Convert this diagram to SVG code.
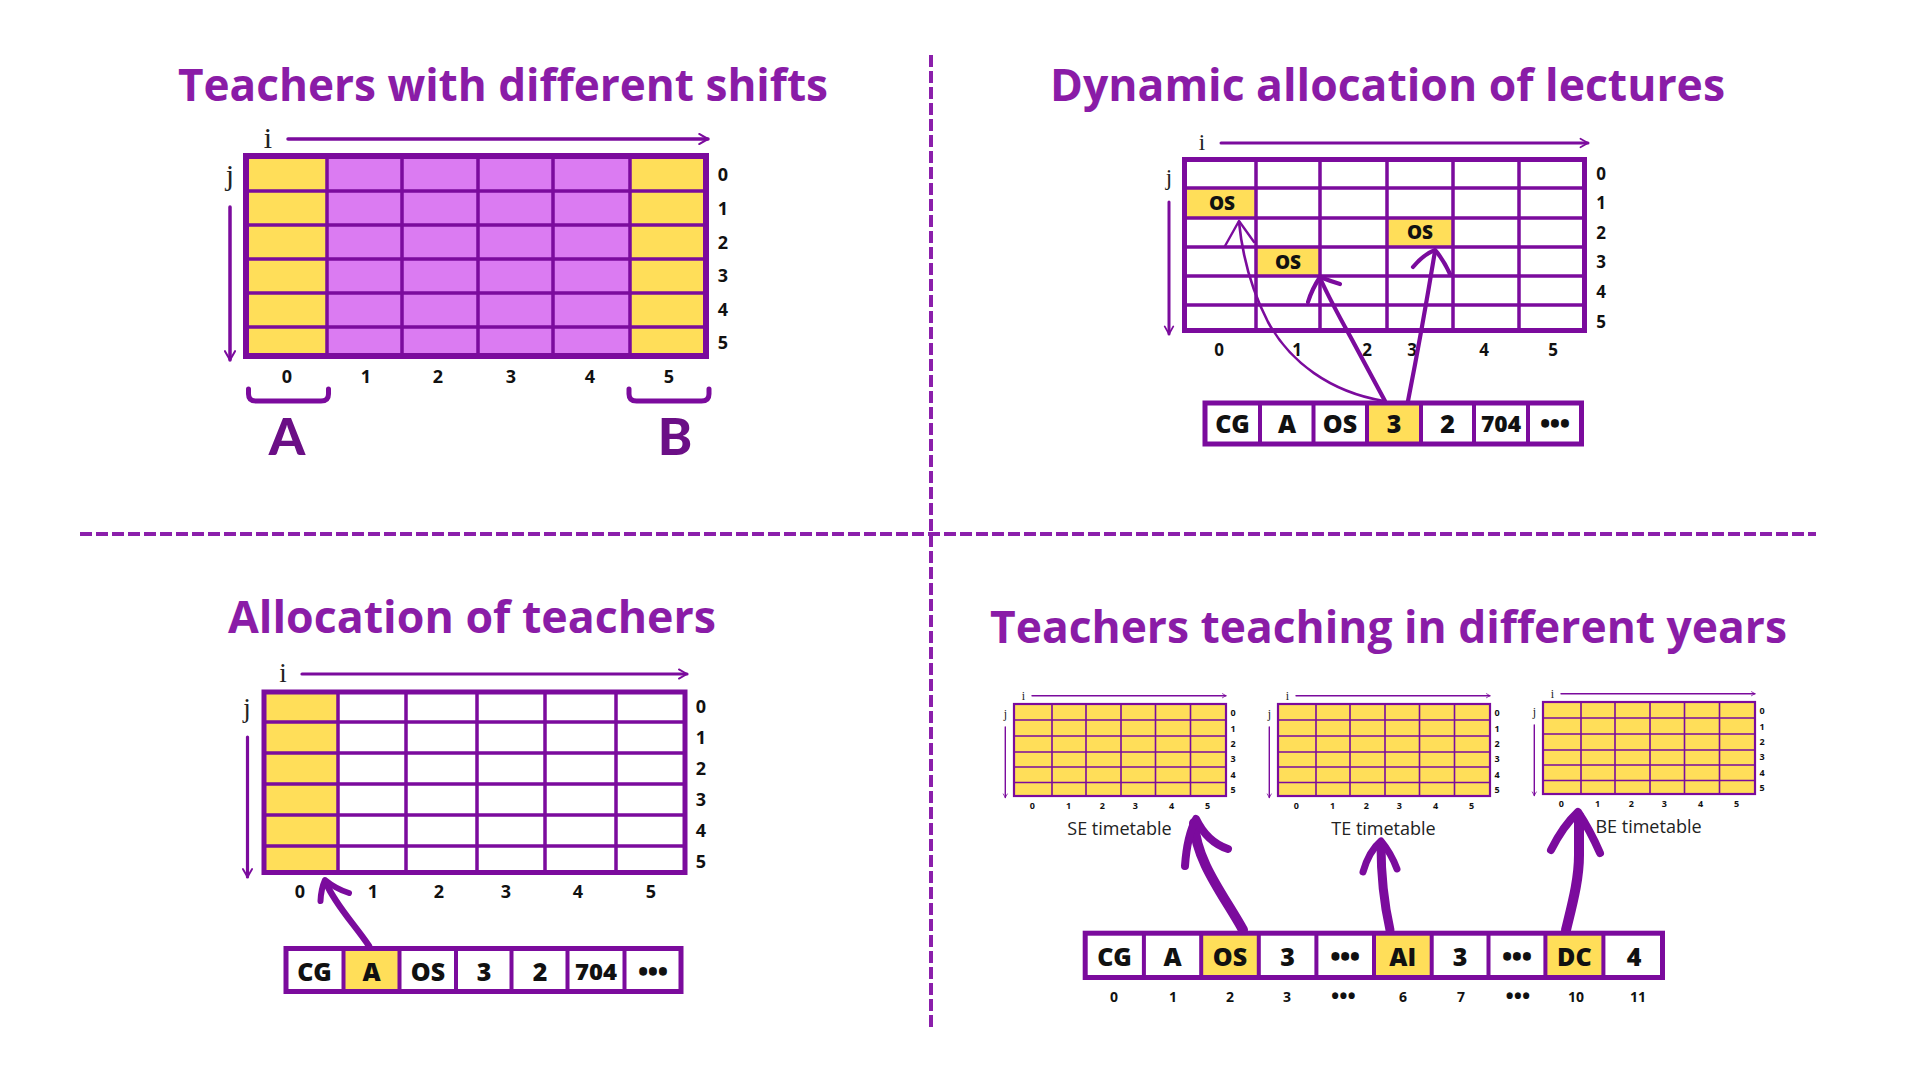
<svg xmlns="http://www.w3.org/2000/svg" width="1920" height="1080" viewBox="0 0 1920 1080">
  <style>
    .ttl { font-family: "Open Sans", Lato, "DejaVu Sans", sans-serif; font-weight: 700; font-size: 44px; fill: #8a1ca7; }
    .big { font-family: Lato, "Open Sans", sans-serif; font-weight: 900; font-size: 52px; fill: #6b0f86; text-anchor: middle; }
    .num { font-family: "Open Sans", "Liberation Sans", sans-serif; font-weight: 700; font-size: 18px; fill: #111; text-anchor: middle; }
    .num17 { font-family: "Open Sans", "Liberation Sans", sans-serif; font-weight: 700; font-size: 17px; fill: #111; text-anchor: middle; }
    .snum { font-family: "Open Sans", "Liberation Sans", sans-serif; font-weight: 700; font-size: 9px; fill: #111; text-anchor: middle; }
    .cell { font-family: "Open Sans", "Liberation Sans", sans-serif; font-weight: 800; font-size: 25px; fill: #111; text-anchor: middle; }
    .os { font-family: "Open Sans", "Liberation Sans", sans-serif; font-weight: 800; font-size: 19px; fill: #111; text-anchor: middle; }
    .idx { font-family: "Open Sans", "Liberation Sans", sans-serif; font-weight: 700; font-size: 14px; fill: #111; text-anchor: middle; }
    .ax { font-family: "Liberation Serif", "DejaVu Serif", serif; fill: #222; text-anchor: middle; }
    .cap { font-family: "Open Sans", "Liberation Sans", sans-serif; font-weight: 400; font-size: 18px; fill: #222; text-anchor: middle; }
    .axis { fill: none; stroke: #7b0b9d; stroke-linecap: round; marker-end: url(#chev); }
    .gl { fill: none; stroke: #7b0b9d; }
    .yel { fill: #ffde59; }
    .pink { fill: #db7bf2; }
    .wht { fill: #ffffff; }
    .dash { fill: none; stroke: #8b1fab; stroke-width: 4; stroke-dasharray: 12 4; }
    .thick { fill: none; stroke: #7b0b9d; stroke-linecap: round; stroke-linejoin: round; }
  </style>
  <defs>
    <marker id="chev" viewBox="0 0 10 10" refX="8.5" refY="5" markerWidth="3.6" markerHeight="4.6" orient="auto" markerUnits="strokeWidth">
      <path d="M1.5,1 L8.5,5 L1.5,9" fill="none" stroke="#7b0b9d" stroke-width="1.6" stroke-linecap="round" stroke-linejoin="round"/>
    </marker>
  </defs>
  <rect width="1920" height="1080" fill="#ffffff"/>

  <!-- dividers -->
  <g id="dividers">
    <line class="dash" x1="931" y1="55" x2="931" y2="1029"/>
    <line class="dash" x1="80" y1="534" x2="1816" y2="534"/>
  </g>

  <!-- titles -->
  <g id="titles">
    <text class="ttl" x="178" y="101" textLength="650" lengthAdjust="spacingAndGlyphs">Teachers with different shifts</text>
    <text class="ttl" x="1050" y="101" textLength="675" lengthAdjust="spacingAndGlyphs">Dynamic allocation of lectures</text>
    <text class="ttl" x="228" y="633" textLength="488" lengthAdjust="spacingAndGlyphs">Allocation of teachers</text>
    <text class="ttl" x="990" y="643" textLength="797" lengthAdjust="spacingAndGlyphs">Teachers teaching in different years</text>
  </g>

  <!-- Panel 1: Teachers with different shifts -->
  <g id="grid-shifts">
    <rect class="pink" x="246" y="156" width="460" height="200"/>
    <rect class="yel" x="246" y="156" width="81" height="200"/>
    <rect class="yel" x="630" y="156" width="76" height="200"/>
    <path class="gl" stroke-width="3.5" d="M327,156V356 M402,156V356 M478,156V356 M553,156V356 M630,156V356 M246,191H706 M246,225H706 M246,259H706 M246,293H706 M246,327H706"/>
    <rect class="gl" x="246" y="156" width="460" height="200" stroke-width="6"/>
    <text class="ax" x="268" y="148" font-size="30">i</text>
    <text class="ax" x="230" y="185" font-size="30">j</text>
    <line class="axis" x1="288" y1="139" x2="708" y2="139" stroke-width="3.5"/>
    <line class="axis" x1="230" y1="207" x2="230" y2="360" stroke-width="3.5"/>
    <text class="num" x="723" y="181">0</text>
    <text class="num" x="723" y="215">1</text>
    <text class="num" x="723" y="249">2</text>
    <text class="num" x="723" y="282">3</text>
    <text class="num" x="723" y="316">4</text>
    <text class="num" x="723" y="349">5</text>
    <text class="num" x="287" y="383">0</text>
    <text class="num" x="366" y="383">1</text>
    <text class="num" x="438" y="383">2</text>
    <text class="num" x="511" y="383">3</text>
    <text class="num" x="590" y="383">4</text>
    <text class="num" x="669" y="383">5</text>
  </g>
  <g id="group-A">
    <path class="thick" stroke-width="5" d="M248.5,389 V394 Q248.5,401 256,401 H321 Q328.5,401 328.5,394 V389"/>
    <text class="big" x="287" y="455">A</text>
  </g>
  <g id="group-B">
    <path class="thick" stroke-width="5" d="M629,389 V394 Q629,401 636.5,401 H701.5 Q709,401 709,394 V389"/>
    <text class="big" x="675" y="455">B</text>
  </g>

  <!-- Panel 2: Dynamic allocation of lectures -->
  <g id="grid-dynamic">
    <rect class="wht" x="1184.5" y="159.5" width="400" height="171"/>
    <rect class="yel" x="1184.5" y="188" width="71.5" height="30"/>
    <rect class="yel" x="1387" y="218" width="66" height="29"/>
    <rect class="yel" x="1256" y="247" width="64" height="29"/>
    <path class="gl" stroke-width="3.5" d="M1256,159.5V330.5 M1320,159.5V330.5 M1387,159.5V330.5 M1453,159.5V330.5 M1519,159.5V330.5 M1184.5,188H1584.5 M1184.5,218H1584.5 M1184.5,247H1584.5 M1184.5,276H1584.5 M1184.5,305H1584.5"/>
    <rect class="gl" x="1184.5" y="159.5" width="400" height="171" stroke-width="5"/>
    <text class="os" x="1222" y="210">OS</text>
    <text class="os" x="1420" y="238.5">OS</text>
    <text class="os" x="1288" y="268.5">OS</text>
    <text class="ax" x="1202" y="150" font-size="23">i</text>
    <text class="ax" x="1169" y="185" font-size="23">j</text>
    <line class="axis" x1="1221" y1="143" x2="1588" y2="143" stroke-width="3"/>
    <line class="axis" x1="1169" y1="202" x2="1169" y2="334" stroke-width="3"/>
    <text class="num17" x="1601" y="179.5">0</text>
    <text class="num17" x="1601" y="209">1</text>
    <text class="num17" x="1601" y="239">2</text>
    <text class="num17" x="1601" y="268">3</text>
    <text class="num17" x="1601" y="298">4</text>
    <text class="num17" x="1601" y="328">5</text>
    <text class="num17" x="1219" y="356">0</text>
    <text class="num17" x="1297" y="356">1</text>
    <text class="num17" x="1367" y="356">2</text>
    <text class="num17" x="1412" y="356">3</text>
    <text class="num17" x="1484" y="356">4</text>
    <text class="num17" x="1553" y="356">5</text>
  </g>
  <g id="array-dynamic">
    <rect class="wht" x="1205" y="403" width="376.5" height="41"/>
    <rect class="yel" x="1367" y="403" width="54" height="41"/>
    <path class="gl" stroke-width="4" d="M1260,403V444 M1313.5,403V444 M1367,403V444 M1421,403V444 M1474,403V444 M1528,403V444"/>
    <rect class="gl" x="1205" y="403" width="376.5" height="41" stroke-width="5"/>
    <text class="cell" x="1232.5" y="432.5">CG</text>
    <text class="cell" x="1287" y="432.5">A</text>
    <text class="cell" x="1340" y="432.5">OS</text>
    <text class="cell" x="1394" y="432.5">3</text>
    <text class="cell" x="1447.5" y="432.5">2</text>
    <text class="cell" x="1501" y="431.5" style="font-size:22px" textLength="40" lengthAdjust="spacingAndGlyphs">704</text>
    <text class="cell" x="1555" y="432.5">•••</text>
  </g>

  <!-- Panel 3: Allocation of teachers -->
  <g id="grid-allocation">
    <rect class="wht" x="264" y="692" width="421" height="180.5"/>
    <rect class="yel" x="264" y="692" width="74" height="180.5"/>
    <path class="gl" stroke-width="3.5" d="M338,692V872.5 M406,692V872.5 M477,692V872.5 M545,692V872.5 M616,692V872.5 M264,722H685 M264,753H685 M264,784H685 M264,815H685 M264,846H685"/>
    <rect class="gl" x="264" y="692" width="421" height="180.5" stroke-width="5"/>
    <text class="ax" x="283" y="682" font-size="27">i</text>
    <text class="ax" x="247" y="717" font-size="27">j</text>
    <line class="axis" x1="302" y1="674" x2="687" y2="674" stroke-width="3.2"/>
    <line class="axis" x1="247.5" y1="737" x2="247.5" y2="877" stroke-width="3.2"/>
    <text class="num" x="701" y="713">0</text>
    <text class="num" x="701" y="744">1</text>
    <text class="num" x="701" y="775">2</text>
    <text class="num" x="701" y="806">3</text>
    <text class="num" x="701" y="836.5">4</text>
    <text class="num" x="701" y="867.5">5</text>
    <text class="num" x="300" y="898">0</text>
    <text class="num" x="373" y="898">1</text>
    <text class="num" x="439" y="898">2</text>
    <text class="num" x="506" y="898">3</text>
    <text class="num" x="578" y="898">4</text>
    <text class="num" x="651" y="898">5</text>
  </g>
  <g id="array-allocation">
    <rect class="wht" x="286" y="948.5" width="395" height="43"/>
    <rect class="yel" x="343.5" y="948.5" width="56" height="43"/>
    <path class="gl" stroke-width="4" d="M343.5,948.5V991.5 M399.5,948.5V991.5 M456,948.5V991.5 M511.5,948.5V991.5 M567.5,948.5V991.5 M624.5,948.5V991.5"/>
    <rect class="gl" x="286" y="948.5" width="395" height="43" stroke-width="5"/>
    <text class="cell" x="314.5" y="981">CG</text>
    <text class="cell" x="371.5" y="981">A</text>
    <text class="cell" x="428" y="981">OS</text>
    <text class="cell" x="484" y="981">3</text>
    <text class="cell" x="540" y="981">2</text>
    <text class="cell" x="596" y="980" style="font-size:23px" textLength="42" lengthAdjust="spacingAndGlyphs">704</text>
    <text class="cell" x="653" y="981">•••</text>
  </g>

  <!-- Panel 4: Teachers teaching in different years -->
  <g id="grid-SE" transform="translate(1013,703)">
    <rect class="yel" x="1" y="1" width="212" height="92"/>
    <path class="gl" stroke-width="1.6" d="M39,1V93 M73,1V93 M108,1V93 M142.5,1V93 M177.5,1V93 M1,17H213 M1,33H213 M1,49H213 M1,64H213 M1,79.5H213"/>
    <rect class="gl" x="1" y="1" width="212" height="92" stroke-width="2.2"/>
    <text class="ax" x="10.5" y="-3" font-size="12">i</text>
    <text class="ax" x="-7.7" y="14.5" font-size="12">j</text>
    <line class="axis" x1="19" y1="-7.3" x2="213" y2="-7.3" stroke-width="1.4"/>
    <line class="axis" x1="-7.7" y1="24" x2="-7.7" y2="94.5" stroke-width="1.4"/>
    <text class="snum" x="220" y="13">0</text>
    <text class="snum" x="220" y="28.5">1</text>
    <text class="snum" x="220" y="43.5">2</text>
    <text class="snum" x="220" y="59">3</text>
    <text class="snum" x="220" y="74.5">4</text>
    <text class="snum" x="220" y="89.5">5</text>
    <text class="snum" x="19.3" y="106">0</text>
    <text class="snum" x="55.5" y="106">1</text>
    <text class="snum" x="89.3" y="106">2</text>
    <text class="snum" x="122.3" y="106">3</text>
    <text class="snum" x="158.7" y="106">4</text>
    <text class="snum" x="194.7" y="106">5</text>
    <text class="cap" x="106.5" y="132">SE timetable</text>
  </g>
  <g id="grid-TE" transform="translate(1277,703)">
    <rect class="yel" x="1" y="1" width="212" height="92"/>
    <path class="gl" stroke-width="1.6" d="M39,1V93 M73,1V93 M108,1V93 M142.5,1V93 M177.5,1V93 M1,17H213 M1,33H213 M1,49H213 M1,64H213 M1,79.5H213"/>
    <rect class="gl" x="1" y="1" width="212" height="92" stroke-width="2.2"/>
    <text class="ax" x="10.5" y="-3" font-size="12">i</text>
    <text class="ax" x="-7.7" y="14.5" font-size="12">j</text>
    <line class="axis" x1="19" y1="-7.3" x2="213" y2="-7.3" stroke-width="1.4"/>
    <line class="axis" x1="-7.7" y1="24" x2="-7.7" y2="94.5" stroke-width="1.4"/>
    <text class="snum" x="220" y="13">0</text>
    <text class="snum" x="220" y="28.5">1</text>
    <text class="snum" x="220" y="43.5">2</text>
    <text class="snum" x="220" y="59">3</text>
    <text class="snum" x="220" y="74.5">4</text>
    <text class="snum" x="220" y="89.5">5</text>
    <text class="snum" x="19.3" y="106">0</text>
    <text class="snum" x="55.5" y="106">1</text>
    <text class="snum" x="89.3" y="106">2</text>
    <text class="snum" x="122.3" y="106">3</text>
    <text class="snum" x="158.7" y="106">4</text>
    <text class="snum" x="194.7" y="106">5</text>
    <text class="cap" x="106.5" y="132">TE timetable</text>
  </g>
  <g id="grid-BE" transform="translate(1542,701)">
    <rect class="yel" x="1" y="1" width="212" height="92"/>
    <path class="gl" stroke-width="1.6" d="M39,1V93 M73,1V93 M108,1V93 M142.5,1V93 M177.5,1V93 M1,17H213 M1,33H213 M1,49H213 M1,64H213 M1,79.5H213"/>
    <rect class="gl" x="1" y="1" width="212" height="92" stroke-width="2.2"/>
    <text class="ax" x="10.5" y="-3" font-size="12">i</text>
    <text class="ax" x="-7.7" y="14.5" font-size="12">j</text>
    <line class="axis" x1="19" y1="-7.3" x2="213" y2="-7.3" stroke-width="1.4"/>
    <line class="axis" x1="-7.7" y1="24" x2="-7.7" y2="94.5" stroke-width="1.4"/>
    <text class="snum" x="220" y="13">0</text>
    <text class="snum" x="220" y="28.5">1</text>
    <text class="snum" x="220" y="43.5">2</text>
    <text class="snum" x="220" y="59">3</text>
    <text class="snum" x="220" y="74.5">4</text>
    <text class="snum" x="220" y="89.5">5</text>
    <text class="snum" x="19.3" y="106">0</text>
    <text class="snum" x="55.5" y="106">1</text>
    <text class="snum" x="89.3" y="106">2</text>
    <text class="snum" x="122.3" y="106">3</text>
    <text class="snum" x="158.7" y="106">4</text>
    <text class="snum" x="194.7" y="106">5</text>
    <text class="cap" x="106.5" y="131.7">BE timetable</text>
  </g>
  <g id="array-years">
    <rect class="wht" x="1085.2" y="933.2" width="577.3" height="44.3"/>
    <rect class="yel" x="1201.2" y="933.2" width="57.6" height="44.3"/>
    <rect class="yel" x="1374" y="933.2" width="57.7" height="44.3"/>
    <rect class="yel" x="1545.4" y="933.2" width="58" height="44.3"/>
    <path class="gl" stroke-width="4" d="M1143.9,933.2V977.5 M1201.2,933.2V977.5 M1258.8,933.2V977.5 M1316.4,933.2V977.5 M1374,933.2V977.5 M1431.7,933.2V977.5 M1488.5,933.2V977.5 M1545.4,933.2V977.5 M1603.4,933.2V977.5"/>
    <rect class="gl" x="1085.2" y="933.2" width="577.3" height="44.3" stroke-width="5"/>
    <text class="cell" x="1114.5" y="966">CG</text>
    <text class="cell" x="1172.5" y="966">A</text>
    <text class="cell" x="1230" y="966">OS</text>
    <text class="cell" x="1287.6" y="966">3</text>
    <text class="cell" x="1345.2" y="966">•••</text>
    <text class="cell" x="1402.8" y="966">AI</text>
    <text class="cell" x="1460" y="966">3</text>
    <text class="cell" x="1517" y="966">•••</text>
    <text class="cell" x="1574.4" y="966">DC</text>
    <text class="cell" x="1634" y="966">4</text>
    <text class="idx" x="1114" y="1001.5">0</text>
    <text class="idx" x="1173" y="1001.5">1</text>
    <text class="idx" x="1230" y="1001.5">2</text>
    <text class="idx" x="1287" y="1001.5">3</text>
    <text class="idx" x="1343.5" y="1003.5" style="font-size:22px">•••</text>
    <text class="idx" x="1403" y="1001.5">6</text>
    <text class="idx" x="1461" y="1001.5">7</text>
    <text class="idx" x="1518" y="1003.5" style="font-size:22px">•••</text>
    <text class="idx" x="1576" y="1001.5">10</text>
    <text class="idx" x="1638" y="1001.5">11</text>
  </g>

  <!-- connectors -->
  <g id="connectors">
    <!-- panel 2 -->
    <path class="thick" stroke-width="2.6" d="M1384,401 C1330,392 1290,362 1268,322 C1253,293 1243,262 1239,222"/>
    <path class="thick" stroke-width="2.4" d="M1225,246 L1239,221 L1254,242"/>
    <path class="thick" stroke-width="4.2" d="M1385,401 L1350,336 Q1330,300 1320,278"/>
    <path class="thick" stroke-width="4.2" d="M1308,302 Q1312,289 1320,277 Q1330,281 1340,284"/>
    <path class="thick" stroke-width="4.2" d="M1408,401 Q1422,330 1435,251"/>
    <path class="thick" stroke-width="4.2" d="M1413,267 Q1424,254 1435,250 Q1443,259 1450,274"/>
    <!-- panel 3 -->
    <path class="thick" stroke-width="6.5" d="M369,946 C356,926 336,906 326,883"/>
    <path class="thick" stroke-width="6" d="M320.5,901 Q321,889 325,880 Q336,889 349,893"/>
    <!-- panel 4 -->
    <path class="thick" stroke-width="10" d="M1243,930 C1225,897 1196,862 1194,823"/>
    <path class="thick" stroke-width="8" d="M1185,866 Q1187,836 1196,819 Q1207,842 1228,849"/>
    <path class="thick" stroke-width="9" d="M1390,930 Q1381,890 1381,845"/>
    <path class="thick" stroke-width="7" d="M1363,872 Q1369,851 1381,841 Q1391,853 1397,869"/>
    <path class="thick" stroke-width="10" d="M1566,930 C1572,905 1579,880 1579,855 L1579,816"/>
    <path class="thick" stroke-width="8" d="M1551,850 Q1563,826 1578,812 Q1590,830 1600,853"/>
  </g>
</svg>
